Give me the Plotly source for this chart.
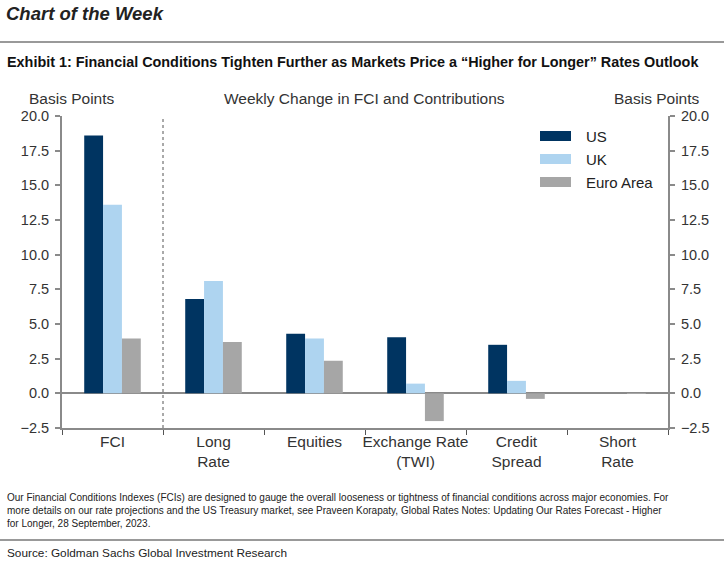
import plotly.graph_objects as go

categories = ["FCI", "Long<br>Rate", "Equities", "Exchange Rate<br>(TWI)", "Credit<br>Spread", "Short<br>Rate"]
us = [18.6, 6.8, 4.3, 4.05, 3.5, 0.0]
uk = [13.6, 8.1, 3.95, 0.7, 0.9, 0.0]
ea = [3.95, 3.7, 2.35, -2.0, -0.4, -0.03]
series_names = ["US", "UK", "Euro Area"]
colors = ["#003461", "#aed4f0", "#a6a6a6"]
y_ticks = [-2.5, 0.0, 2.5, 5.0, 7.5, 10.0, 12.5, 15.0, 17.5, 20.0]

FONT = "Liberation Sans, Arial, sans-serif"

fig = go.Figure()
for name, vals, c in zip(series_names, [us, uk, ea], colors):
    fig.add_trace(go.Bar(x=categories, y=vals, name=name, marker=dict(color=c, line=dict(width=0)),
                         showlegend=False))
# invisible trace to anchor right axis
fig.add_trace(go.Scatter(x=categories, y=[None]*len(categories), yaxis="y2", showlegend=False,
                         hoverinfo="skip", mode="markers"))

axis_common = dict(range=[-2.5, 20.0], tickvals=y_ticks, ticktext=[f"{v:.1f}".replace("-", "−") for v in y_ticks],
                   showgrid=False, ticks="outside", ticklen=5, tickcolor="#8a8a8a", tickwidth=1.5,
                   ticklabelstandoff=3,
                   showline=True, linecolor="#8a8a8a", linewidth=2,
                   tickfont=dict(family=FONT, size=14.5, color="#333"))

fig.update_layout(
    width=724, height=566,
    margin=dict(l=62, r=56, t=116, b=138),
    paper_bgcolor="white", plot_bgcolor="white",
    barmode="group", bargap=0.44, bargroupgap=0,
    xaxis=dict(tickson="boundaries", ticks="outside", ticklen=5, tickcolor="#555", tickwidth=1,
               tickangle=0, automargin=False, ticklabelstandoff=-2,
               showline=True, linecolor="#8a8a8a", linewidth=2, showgrid=False,
               tickfont=dict(family=FONT, size=15.5, color="#333")),
    yaxis=dict(**axis_common, zeroline=True, zerolinecolor="#8a8a8a", zerolinewidth=1.5),
    yaxis2=dict(**axis_common, overlaying="y", side="right", zeroline=False),
)

# dashed divider between FCI and contributions
fig.add_shape(type="line", xref="x", yref="paper", x0=0.5, x1=0.5, y0=0, y1=1,
              line=dict(color="#555", width=1, dash="dot"))

def py(pix):
    return 1 - (pix - 116) / 312

def px(pix):
    return (pix - 62) / 606

# header
fig.add_annotation(text="<b><i>Chart of the Week</i></b>", xref="paper", yref="paper", x=px(4), y=py(13),
                   xanchor="left", yanchor="middle", showarrow=False, font=dict(family=FONT, size=18.5, color="#222"))
fig.add_shape(type="line", xref="paper", yref="paper", x0=px(0), x1=px(724), y0=py(42), y1=py(42),
              line=dict(color="#777", width=1.5))
fig.add_annotation(text="<b>Exhibit 1: Financial Conditions Tighten Further as Markets Price a “Higher for Longer” Rates Outlook</b>",
                   xref="paper", yref="paper", x=px(5), y=py(62), xanchor="left", yanchor="middle",
                   showarrow=False, font=dict(family=FONT, size=14.4, color="#111"))

# axis titles
for txt, xc in [("Basis Points", 72), ("Weekly Change in FCI and Contributions", 364), ("Basis Points", 657)]:
    fig.add_annotation(text=txt, xref="paper", yref="paper", x=px(xc), y=py(98), xanchor="center",
                       yanchor="middle", showarrow=False, font=dict(family=FONT, size=15.5, color="#333"))

# legend
for i, (name, c) in enumerate(zip(series_names, colors)):
    yc = 136 + i * 23
    fig.add_shape(type="rect", xref="paper", yref="paper", x0=px(540), x1=px(571), y0=py(yc - 5), y1=py(yc + 5),
                  fillcolor=c, line=dict(width=0))
    fig.add_annotation(text=name, xref="paper", yref="paper", x=px(584), y=py(yc),
                       xanchor="left", yanchor="middle", showarrow=False,
                       font=dict(family=FONT, size=15, color="#222"))

# footnote
fig.add_annotation(text="Our Financial Conditions Indexes (FCIs) are designed to gauge the overall looseness or tightness of financial conditions across major economies. For<br>"
                        "more details on our rate projections and the US Treasury market, see Praveen Korapaty, Global Rates Notes: Updating Our Rates Forecast - Higher<br>"
                        "for Longer, 28 September, 2023.",
                   xref="paper", yref="paper", x=px(5), y=py(490), xanchor="left", yanchor="top",
                   align="left", showarrow=False, font=dict(family=FONT, size=10, color="#222"))
fig.add_shape(type="line", xref="paper", yref="paper", x0=px(0), x1=px(724), y0=py(540), y1=py(540),
              line=dict(color="#777", width=1.5))
fig.add_annotation(text="Source: Goldman Sachs Global Investment Research", xref="paper", yref="paper",
                   x=px(5), y=py(553), xanchor="left", yanchor="middle", showarrow=False,
                   font=dict(family=FONT, size=11.8, color="#222"))

fig.write_html("out.html")
